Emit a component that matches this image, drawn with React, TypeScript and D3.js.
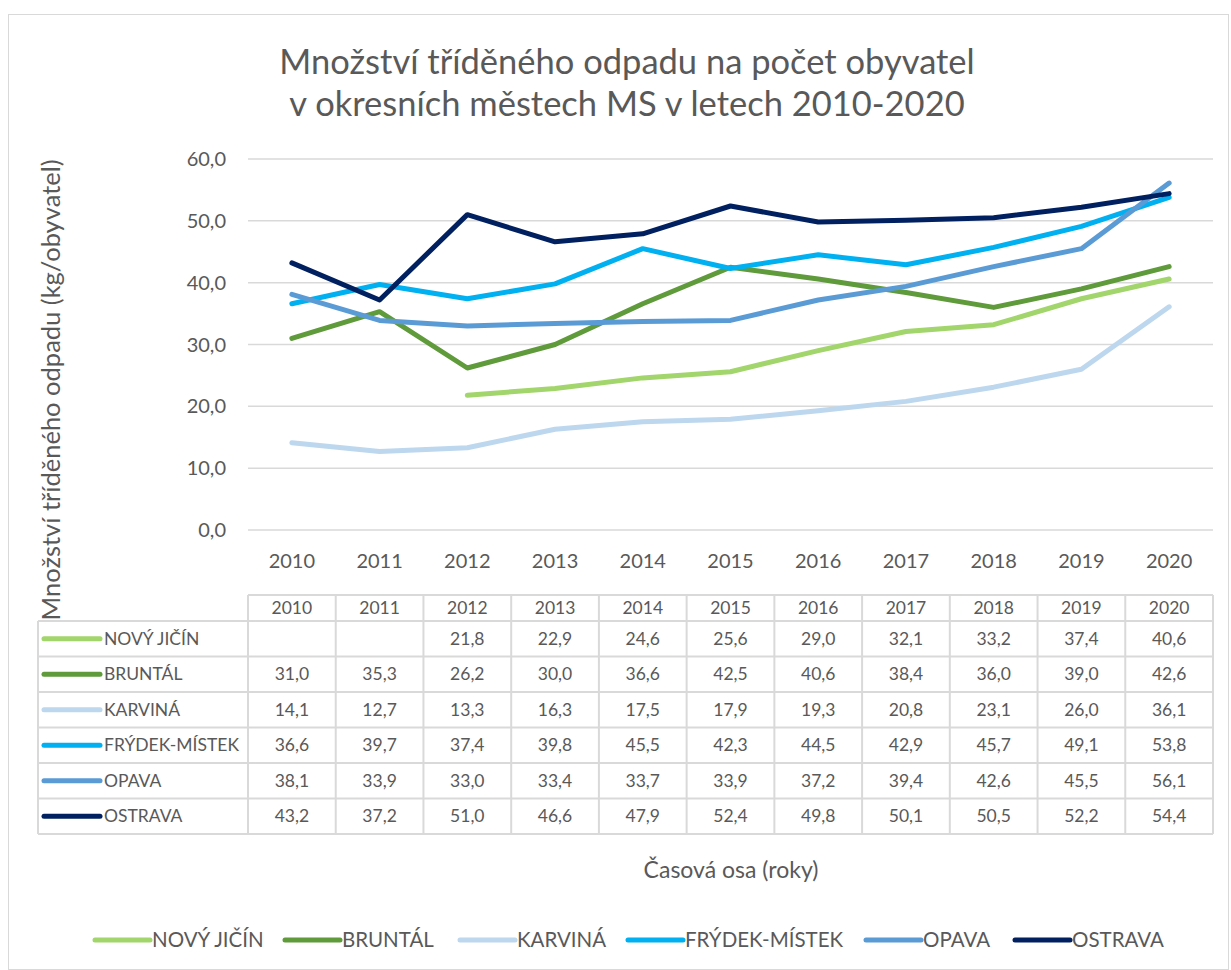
import React from 'react'
import * as d3 from 'd3'

/* chart data */
const years = ['2010', '2011', '2012', '2013', '2014', '2015', '2016', '2017', '2018', '2019', '2020']
const seriesNames = ['NOVÝ JIČÍN', 'BRUNTÁL', 'KARVINÁ', 'FRÝDEK-MÍSTEK', 'OPAVA', 'OSTRAVA']
const novyJicin = [null, null, 21.8, 22.9, 24.6, 25.6, 29.0, 32.1, 33.2, 37.4, 40.6]
const bruntal = [31.0, 35.3, 26.2, 30.0, 36.6, 42.5, 40.6, 38.4, 36.0, 39.0, 42.6]
const karvina = [14.1, 12.7, 13.3, 16.3, 17.5, 17.9, 19.3, 20.8, 23.1, 26.0, 36.1]
const frydek = [36.6, 39.7, 37.4, 39.8, 45.5, 42.3, 44.5, 42.9, 45.7, 49.1, 53.8]
const opava = [38.1, 33.9, 33.0, 33.4, 33.7, 33.9, 37.2, 39.4, 42.6, 45.5, 56.1]
const ostrava = [43.2, 37.2, 51.0, 46.6, 47.9, 52.4, 49.8, 50.1, 50.5, 52.2, 54.4]
const yTicks = [0, 10, 20, 30, 40, 50, 60]
const colors = ['#A2D56B', '#5F9A3B', '#BDD7EE', '#00B0F0', '#5B9BD5', '#002060']

const seriesValues = [novyJicin, bruntal, karvina, frydek, opava, ostrava]

const width = 1231
const height = 970
const plot = { left: 248, right: 1213, top: 159, bottom: 530 }
const table = { left: 38, top: 595, header: 26, row: 35.5 }
const textColor = '#595959'
const gridColor = '#D9D9D9'
const font = 'Lato, "Open Sans", sans-serif'
const fmt = (v: number) => v.toFixed(1).replace('.', ',')

/* legend item positions along the bottom */
const legendX = [95, 285, 460, 628, 866, 1015]

const App = () => {
    const xScale = d3.scaleBand().domain(years).range([plot.left, plot.right])
    const yScale = d3.scaleLinear().domain([0, 60]).range([plot.bottom, plot.top])
    const cx = (y: string) => (xScale(y) as number) + xScale.bandwidth() / 2

    const line = d3
        .line<number | null>()
        .defined((d) => d !== null)
        .x((_, i) => cx(years[i]))
        .y((d) => yScale(d as number))

    const tableBottom = table.top + table.header + table.row * seriesNames.length

    return (
        <svg width={width} height={height} style={{ position: 'absolute', left: 0, top: 0 }} fontFamily={font}>
            <rect x={0} y={0} width={width} height={height} fill="#fff" />
            <rect x={8.5} y={14.5} width={1220} height={955} fill="none" stroke={gridColor} />

            {/* title */}
            <text x={627} y={74} textAnchor="middle" fontSize={34.5} fill={textColor}>
                Množství tříděného odpadu na počet obyvatel
            </text>
            <text x={627} y={116} textAnchor="middle" fontSize={34.5} fill={textColor}>
                v okresních městech MS v letech 2010-2020
            </text>

            {/* gridlines and y ticks */}
            {yTicks.map((t) => (
                <g key={t}>
                    <line x1={plot.left} x2={plot.right} y1={yScale(t)} y2={yScale(t)} stroke={gridColor} strokeWidth={1.5} />
                    <text x={226} y={yScale(t) + 7} textAnchor="end" fontSize={20} fill={textColor}>
                        {fmt(t)}
                    </text>
                </g>
            ))}

            {/* x tick labels */}
            {years.map((y) => (
                <text key={y} x={cx(y)} y={568} textAnchor="middle" fontSize={20} fill={textColor}>
                    {y}
                </text>
            ))}

            {/* lines */}
            {seriesValues.map((vals, i) => (
                <path
                    key={i}
                    d={line(vals) || ''}
                    fill="none"
                    stroke={colors[i]}
                    strokeWidth={5}
                    strokeLinecap="round"
                    strokeLinejoin="round"
                />
            ))}

            {/* y axis title */}
            <text
                transform={`translate(60, 390) rotate(-90)`}
                textAnchor="middle"
                fontSize={25.5}
                fill={textColor}
            >
                Množství tříděného odpadu (kg/obyvatel)
            </text>

            {/* data table */}
            <g>
                {/* header row */}
                <line x1={plot.left} x2={plot.right} y1={table.top} y2={table.top} stroke={gridColor} strokeWidth={2} />
                {years.map((y) => (
                    <text key={y} x={cx(y)} y={table.top + 19} textAnchor="middle" fontSize={17.5} fill={textColor}>
                        {y}
                    </text>
                ))}
                {seriesNames.map((name, i) => {
                    const top = table.top + table.header + table.row * i
                    return (
                        <g key={name}>
                            <line x1={table.left} x2={plot.right} y1={top} y2={top} stroke={gridColor} strokeWidth={2} />
                            <line x1={44} x2={100} y1={top + table.row / 2} y2={top + table.row / 2} stroke={colors[i]} strokeWidth={5} strokeLinecap="round" />
                            <text x={104} y={top + table.row / 2 + 6} fontSize={17.5} fill={textColor}>
                                {name}
                            </text>
                            {seriesValues[i].map((v, j) =>
                                v === null ? null : (
                                    <text key={j} x={cx(years[j])} y={top + table.row / 2 + 6} textAnchor="middle" fontSize={17.5} fill={textColor}>
                                        {fmt(v)}
                                    </text>
                                )
                            )}
                        </g>
                    )
                })}
                <line x1={table.left} x2={plot.right} y1={tableBottom} y2={tableBottom} stroke={gridColor} strokeWidth={2} />
                <line x1={table.left} x2={table.left} y1={table.top + table.header} y2={tableBottom} stroke={gridColor} strokeWidth={2} />
                {years.map((y) => (
                    <line key={y} x1={xScale(y)} x2={xScale(y)} y1={table.top} y2={tableBottom} stroke={gridColor} strokeWidth={2} />
                ))}
                <line x1={plot.right} x2={plot.right} y1={table.top} y2={tableBottom} stroke={gridColor} strokeWidth={2} />
            </g>

            {/* x axis title */}
            <text x={731} y={878} textAnchor="middle" fontSize={23} fill={textColor}>
                Časová osa (roky)
            </text>

            {/* legend */}
            {seriesNames.map((name, i) => (
                <g key={name}>
                    <line x1={legendX[i]} x2={legendX[i] + 55} y1={940} y2={940} stroke={colors[i]} strokeWidth={5} strokeLinecap="round" />
                    <text x={legendX[i] + 57} y={947} fontSize={20.5} fill={textColor}>
                        {name}
                    </text>
                </g>
            ))}
        </svg>
    )
}

export default App
